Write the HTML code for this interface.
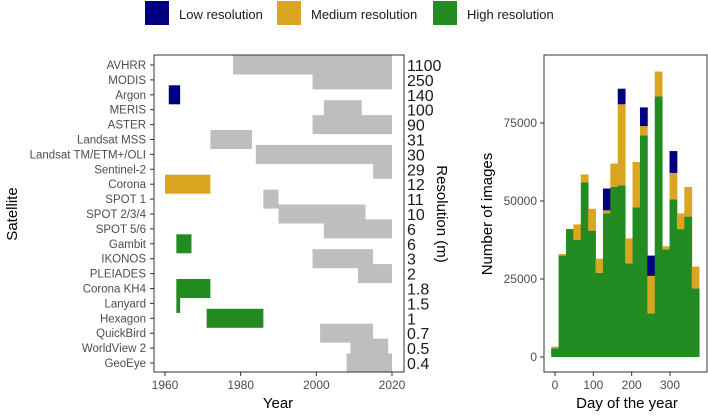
<!DOCTYPE html>
<html><head><meta charset="utf-8"><style>
body{margin:0;background:#fff}
svg text{font-family:"Liberation Sans",Arial,sans-serif}
</style></head><body>
<svg id="s" width="708" height="414" viewBox="0 0 708 414">
<g>
<rect x="145" y="1" width="24" height="24" fill="#000080"/>
<text x="179" y="19" font-size="13" fill="#1a1a1a">Low resolution</text>
<rect x="277" y="1" width="24" height="24" fill="#DAA520"/>
<text x="311" y="19" font-size="13" fill="#1a1a1a">Medium resolution</text>
<rect x="433" y="1" width="24" height="24" fill="#228B22"/>
<text x="467" y="19" font-size="13" fill="#1a1a1a">High resolution</text>
</g>
<g id="left"></g>
<g id="right"></g>
</svg>
<script>
const sats=["AVHRR","MODIS","Argon","MERIS","ASTER","Landsat MSS","Landsat TM/ETM+/OLI","Sentinel-2","Corona","SPOT 1","SPOT 2/3/4","SPOT 5/6","Gambit","IKONOS","PLEIADES","Corona KH4","Lanyard","Hexagon","QuickBird","WorldView 2","GeoEye"];
const resLabels=["1100","250","140","100","90","31","30","29","12","11","10","6","6","3","2","1.8","1.5","1","0.7","0.5","0.4"];
const startYears=[1978,1999,1961,2002,1999,1972,1984,2015,1960,1986,1990,2002,1963,1999,2011,1963,1963,1971,2001,2009,2008];
const endYears=[2020,2020,1964,2012,2020,1983,2020,2020,1972,1990,2013,2020,1967,2015,2020,1972,1964,1986,2015,2019,2020];
const classes=["none","none","low","none","none","none","none","none","medium","none","none","none","high","none","none","high","high","high","none","none","none"];
const yearTicks=[1960,1980,2000,2020];

const dayTicks=[0,100,200,300];
const countTicks=[0,25000,50000,75000];
const binStartDay=-10, binWidthDay=19.3;
const highCounts=[2800,32500,41000,37500,56000,40500,27000,46000,54500,55000,30000,48000,71000,14000,83500,34500,50500,41000,45000,22000];
const mediumCounts=[500,500,0,5000,2500,7000,4500,1000,7500,26000,8000,14500,3000,12000,8000,1000,8500,5000,9500,7000];
const lowCounts=[0,0,0,0,0,0,0,7000,0,5000,0,0,6000,6500,0,0,7000,0,0,0];

const NS="http://www.w3.org/2000/svg";
function mk(p,t,a){const e=document.createElementNS(NS,t);for(const k in a)e.setAttribute(k,a[k]);p.appendChild(e);return e;}
const col={none:"#BEBEBE",low:"#000080",medium:"#DAA520",high:"#228B22"};

// left chart
const L=document.getElementById('left');
const lx0=154,lx1=404,ly0=55,ly1=372;
const xY=y=>165+(y-1960)*(392-165)/60;
const rowY=i=>65+i*(363-65)/20;
sats.forEach((s,i)=>{
  const r=mk(L,'rect',{x:xY(startYears[i]),y:rowY(i)-9.5,width:xY(endYears[i])-xY(startYears[i]),height:19,fill:col[classes[i]]});
  
  
  const t=mk(L,'text',{x:146,y:rowY(i)+4,'font-size':11.5,fill:'#4d4d4d','text-anchor':'end'});t.textContent=s;
  
  
  const tk=mk(L,'line',{x1:150,x2:154,y1:rowY(i),y2:rowY(i),stroke:'#333'});
  
  
  const rt=mk(L,'text',{x:407,y:rowY(i)+6,'font-size':16,fill:'#1a1a1a'});rt.textContent=resLabels[i];
  
  
});
const lb=mk(L,'rect',{x:lx0,y:ly0,width:lx1-lx0,height:ly1-ly0,fill:'none',stroke:'#333','stroke-width':1});


yearTicks.forEach(y=>{
  const tk=mk(L,'line',{x1:xY(y),x2:xY(y),y1:ly1,y2:ly1+4,stroke:'#333'});
  
  
  const t=mk(L,'text',{x:xY(y),y:389,'font-size':12,fill:'#4d4d4d','text-anchor':'middle'});t.textContent=y;
  
  
});
let t=mk(L,'text',{x:278,y:408,'font-size':15,fill:'#000','text-anchor':'middle'});t.textContent='Year';


t=mk(L,'text',{x:0,y:0,'font-size':15,fill:'#000','text-anchor':'middle',transform:'translate(17,214) rotate(-90)'});t.textContent='Satellite';


t=mk(L,'text',{x:0,y:0,'font-size':15,fill:'#000','text-anchor':'middle',transform:'translate(437,214) rotate(90)'});t.textContent='Resolution (m)';



// right chart
const R=document.getElementById('right');
const rx0=544,rx1=707,ry0=55,ry1=372;
const xD=d=>555+d*(670-555)/300;
const yC=c=>357-c*(357-123)/75000;
highCounts.forEach((h,i)=>{
  const a=xD(binStartDay+i*binWidthDay), w=xD(binStartDay+(i+1)*binWidthDay)-a+0.4;
  const m=mediumCounts[i], l=lowCounts[i];
  let r=mk(R,'rect',{x:a,y:yC(h),width:w,height:yC(0)-yC(h),fill:col.high});
  
  
  if(m>0){r=mk(R,'rect',{x:a,y:yC(h+m),width:w,height:yC(h)-yC(h+m),fill:col.medium});
  
  }
  if(l>0){r=mk(R,'rect',{x:a,y:yC(h+m+l),width:w,height:yC(h+m)-yC(h+m+l),fill:col.low});
  
  }
});
const rb=mk(R,'rect',{x:rx0,y:ry0,width:rx1-rx0,height:ry1-ry0,fill:'none',stroke:'#333','stroke-width':1});


dayTicks.forEach(d=>{
  const tk=mk(R,'line',{x1:xD(d),x2:xD(d),y1:ry1,y2:ry1+4,stroke:'#333'});
  
  
  const tt=mk(R,'text',{x:xD(d),y:389,'font-size':12,fill:'#4d4d4d','text-anchor':'middle'});tt.textContent=d;
  
  
});
countTicks.forEach(c=>{
  const tk=mk(R,'line',{x1:540,x2:544,y1:yC(c),y2:yC(c),stroke:'#333'});
  
  
  const tt=mk(R,'text',{x:537,y:yC(c)+4,'font-size':12,fill:'#4d4d4d','text-anchor':'end'});tt.textContent=c;
  
  
});
t=mk(R,'text',{x:627,y:408,'font-size':15,fill:'#000','text-anchor':'middle'});t.textContent='Day of the year';


t=mk(R,'text',{x:0,y:0,'font-size':15,fill:'#000','text-anchor':'middle',transform:'translate(492,214) rotate(-90)'});t.textContent='Number of images';


</script>
</body></html>
